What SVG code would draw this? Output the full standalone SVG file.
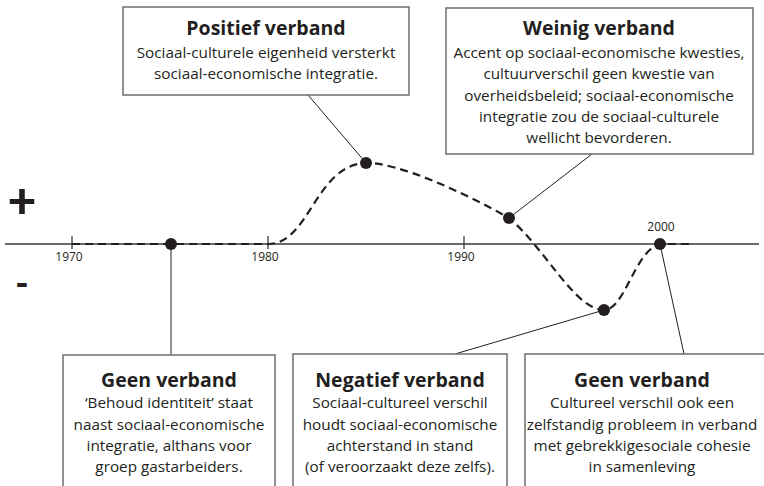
<svg xmlns="http://www.w3.org/2000/svg" width="764" height="486" viewBox="0 0 764 486">
<defs>
<style>
.box{fill:#fff;stroke:#6d6d6d;stroke-width:1.5}
.t{font-family:"Open Sans",Lato,"Liberation Sans",sans-serif;font-weight:700;font-size:19.5px;fill:#231f20;text-anchor:middle}
.b{font-family:"Open Sans",Lato,"Liberation Sans",sans-serif;font-size:15.3px;fill:#231f20;text-anchor:middle}
.yr{font-family:"Open Sans",Lato,"Liberation Sans",sans-serif;font-size:12px;fill:#231f20;text-anchor:middle}
.lead{stroke:#231f20;stroke-width:1;fill:none}
.dot{fill:#231f20}
.axis{stroke:#3a3a3a;stroke-width:1.3;fill:none}
.curve{stroke:#231f20;stroke-width:2.2;fill:none;stroke-dasharray:8 5}
.sign{font-family:Lato,"Liberation Sans",sans-serif;font-weight:900;fill:#231f20;text-anchor:middle}
</style>
</defs>
<g id="axis">
<line class="axis" x1="5" y1="244" x2="759" y2="244"/>
<line class="axis" x1="72" y1="236" x2="72" y2="249"/>
<line class="axis" x1="268" y1="236" x2="268" y2="249"/>
<line class="axis" x1="464" y1="236" x2="464" y2="249"/>
<text class="yr" x="69" y="261">1970</text>
<text class="yr" x="265" y="261">1980</text>
<text class="yr" x="461" y="261">1990</text>
<text class="yr" x="661" y="231">2000</text>
<text class="sign" x="22" y="218" font-size="50">+</text>
<text class="sign" x="22" y="296" font-size="36">-</text>
</g>
<g id="connectors">
<path class="curve" d="M72,244 L268,244 C310,244 315,165 366,163 C395,162 460,190 509,218 C545,248 575,310 604,310 C625,310 635,250 660,244 L690,244"/>
<line class="lead" x1="308" y1="95" x2="366" y2="163"/>
<line class="lead" x1="592" y1="154" x2="509" y2="218"/>
<line class="lead" x1="171" y1="244" x2="171" y2="355"/>
<line class="lead" x1="604" y1="310" x2="455" y2="354"/>
<line class="lead" x1="660" y1="244" x2="684" y2="354"/>
</g>
<g id="dots">
<circle class="dot" cx="171" cy="244" r="6"/>
<circle class="dot" cx="366" cy="163" r="6"/>
<circle class="dot" cx="509" cy="218" r="6"/>
<circle class="dot" cx="604" cy="310" r="6"/>
<circle class="dot" cx="660" cy="244" r="6"/>
</g>
<g id="positief">
<rect class="box" x="123" y="7" width="286" height="88"/>
<text class="t" x="266" y="35">Positief verband</text>
<text class="b" x="266" y="58">Sociaal-culturele eigenheid versterkt</text>
<text class="b" x="266" y="79">sociaal-economische integratie.</text>
</g>
<g id="weinig">
<rect class="box" x="446" y="8" width="307" height="146"/>
<text class="t" x="599" y="35">Weinig verband</text>
<text class="b" x="599" y="58">Accent op sociaal-economische kwesties,</text>
<text class="b" x="599" y="79">cultuurverschil geen kwestie van</text>
<text class="b" x="599" y="100.5">overheidsbeleid; sociaal-economische</text>
<text class="b" x="599" y="122">integratie zou de sociaal-culturele</text>
<text class="b" x="599" y="143">wellicht bevorderen.</text>
</g>
<g id="geen1">
<rect class="box" x="63" y="355" width="212" height="140"/>
<text class="t" x="169" y="387">Geen verband</text>
<text class="b" x="169" y="408">‘Behoud identiteit’ staat</text>
<text class="b" x="169" y="429.5">naast sociaal-economische</text>
<text class="b" x="169" y="451">integratie, althans voor</text>
<text class="b" x="169" y="472">groep gastarbeiders.</text>
</g>
<g id="negatief">
<rect class="box" x="293" y="354" width="214" height="140"/>
<text class="t" x="400" y="387">Negatief verband</text>
<text class="b" x="400" y="408">Sociaal-cultureel verschil</text>
<text class="b" x="400" y="429.5">houdt sociaal-economische</text>
<text class="b" x="400" y="451">achterstand in stand</text>
<text class="b" x="400" y="472">(of veroorzaakt deze zelfs).</text>
</g>
<g id="geen2">
<rect class="box" x="525" y="354" width="250" height="140"/>
<text class="t" x="642" y="387">Geen verband</text>
<text class="b" x="642" y="408">Cultureel verschil ook een</text>
<text class="b" x="642" y="429.5">zelfstandig probleem in verband</text>
<text class="b" x="642" y="451">met gebrekkigesociale cohesie</text>
<text class="b" x="642" y="472">in samenleving</text>
</g>
</svg>
